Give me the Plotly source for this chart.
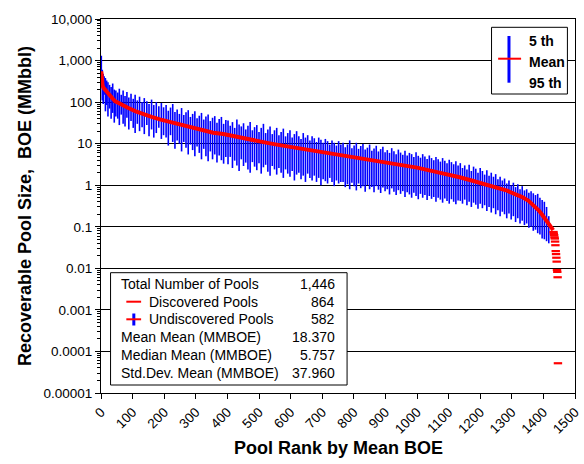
import plotly.graph_objects as go

# ---------------- data ----------------
# Mean BOE by pool rank (red curve)
mean_rank = [1, 2, 3, 5, 8, 12, 20, 30, 44, 60,
             85, 110, 137, 160, 189, 215, 241, 270, 293, 330,
             355, 387, 420, 450, 490, 530, 570, 626, 680, 723,
             761, 810, 865, 930, 1000, 1060, 1104, 1135, 1170, 1208,
             1240, 1260, 1285, 1312, 1333, 1353, 1374, 1385, 1395, 1405,
             1416, 1425, 1431]
mean_val = [550, 390, 300, 250, 220, 200, 170, 140, 106, 90,
            73, 60, 50, 44, 38, 34, 31, 27, 24, 20.5,
            18.4, 17.0, 15, 13.3, 11.7, 10.3, 9.1, 7.8, 6.6, 5.76,
            5.3, 4.7, 4.0, 3.3, 2.65, 2.1, 1.8, 1.55, 1.32, 1.1,
            0.95, 0.85, 0.74, 0.6, 0.52, 0.42, 0.31, 0.25, 0.2, 0.16,
            0.12, 0.095, 0.083]

# smallest discovered pools (separate red dashes)
tail_rank = [1432, 1433, 1434, 1435, 1436, 1437, 1438, 1439, 1440, 1441,
             1442, 1443, 1444, 1445, 1446]
tail_val = [0.075, 0.068, 0.063, 0.056, 0.052, 0.044, 0.036, 0.026, 0.022, 0.018,
            0.0145, 0.0091, 0.0082, 0.0061, 0.000052]

# undiscovered pools: 5th (high) and 95th (low) fractiles
bar_rank = [1, 4, 7, 10, 14, 18, 22, 27, 32, 37, 42, 47,
            53, 58, 64, 70, 76, 82, 88, 95, 102, 108, 115, 122, 130, 137, 145, 152, 160, 167, 175, 183, 191, 198,
            206, 213, 220, 227, 234, 241, 248, 255, 262, 269, 276, 283, 290, 297, 304, 311, 318, 325, 332, 339,
            346, 353, 360, 367, 374, 381, 388, 395,
            402, 409, 416, 423, 430, 437, 444, 451, 458, 465, 472, 479, 486, 493, 500, 507, 514, 521, 528, 535,
            542, 549, 556, 563, 570, 577, 584, 591, 598, 605, 612, 619, 626, 633, 640, 647, 654, 661, 668, 675,
            682, 689, 696, 703, 710, 717, 724, 731, 738, 745, 752, 759,
            766, 773, 780, 787, 794, 801, 808, 815, 822, 829, 836, 843, 850, 857, 864, 871, 878, 885, 892, 899,
            906, 913, 920, 927, 934, 941, 948, 955, 962, 969, 976, 983, 990, 997, 1004, 1011, 1018, 1025, 1032,
            1039, 1046, 1053, 1060, 1067, 1074, 1081, 1088, 1095, 1102, 1109, 1116, 1123, 1130,
            1137, 1144, 1151, 1158, 1165, 1172, 1179, 1186, 1193, 1200, 1207, 1214, 1221, 1228, 1235, 1242,
            1249, 1256, 1263, 1270, 1277, 1284, 1291, 1298, 1305, 1312, 1319, 1326, 1333, 1340, 1347, 1354,
            1361, 1368, 1375, 1382, 1389, 1396, 1403, 1410, 1417]
bar_p5 = [1300, 600, 480, 420, 380, 330, 300, 260, 230, 280, 200, 190,
          170, 210, 150, 190, 140, 175, 130, 160, 120, 150, 110, 135, 100, 125, 105, 90, 115, 85, 100, 80, 95, 75,
          85, 62, 74, 90, 58, 66, 52, 72, 49, 57, 64, 44, 52, 60, 41, 47, 55, 38, 45, 50,
          35, 42, 46, 32, 39, 44, 30, 37,
          36, 27, 33, 24, 38, 29, 26, 31, 22, 27, 33, 21, 25, 28, 19, 24, 30, 18, 22, 26,
          17, 21, 24, 16, 19, 23, 15, 18, 21, 14, 17, 20, 15, 13, 18, 14, 16, 12, 15, 13.5,
          11, 14, 12.5, 10.5, 13, 11.5, 9.5, 12, 10.5, 9, 11.5, 9.5,
          10.5, 8.2, 9.6, 12, 7.8, 9.0, 10.5, 7.5, 8.8, 9.8, 7.2, 8.0, 9.5, 6.8, 7.7, 8.9, 6.5, 7.4, 8.4, 6.2,
          7.0, 6.0, 7.8, 6.6, 5.6, 7.2, 6.1, 5.4, 6.8, 5.2, 6.0, 5.6, 4.8, 6.2, 5.1, 4.6, 5.6, 4.9, 4.3,
          5.2, 4.5, 4.0, 4.8, 4.2, 3.7, 4.5, 3.9, 3.4, 4.1, 3.6, 3.2, 3.8, 3.0,
          3.4, 2.6, 3.0, 2.4, 3.1, 2.2, 2.8, 2.5, 2.0, 2.6, 2.2, 1.8, 2.3, 1.7, 2.0, 1.6,
          1.85, 1.4, 1.6, 1.3, 1.45, 1.1, 1.3, 1.0, 1.15, 0.9, 1.05, 0.8, 0.95, 0.75, 0.8, 0.66,
          0.72, 0.64, 0.58, 0.62, 0.5, 0.44, 0.4, 0.3, 0.18]
bar_p95 = [300, 110, 90, 150, 60, 85, 45, 70, 40, 55, 32, 45,
           40, 28, 50, 30, 26, 42, 22, 35, 24, 18, 30, 20, 25, 17, 28, 15, 22, 14, 18, 24, 13, 16,
           14, 9, 16, 11, 7.5, 12, 10, 6.5, 11, 8, 5.5, 9.5, 7, 5, 8.5, 6, 4.2, 7.5, 5, 3.8,
           6.5, 4.2, 5.5, 3.5, 5.2, 4, 3.3, 4.8,
           3.2, 4.8, 2.6, 3.9, 3.0, 2.2, 4.2, 2.9, 3.5, 2.4, 2.0, 3.6, 2.8, 2.3, 3.4, 1.9, 2.7, 3.1, 2.1, 1.7,
           2.9, 2.4, 1.8, 2.6, 2.0, 1.5, 2.4, 1.9, 1.6, 2.2, 1.3, 1.8, 2.0, 1.4, 1.7, 1.2, 1.9, 1.5, 1.3, 1.7,
           1.2, 1.5, 1.0, 1.4, 1.25, 1.1, 1.5, 1.2, 0.95, 1.3, 1.1, 1.2,
           1.2, 0.9, 1.05, 0.8, 1.15, 0.95, 0.75, 1.1, 0.85, 0.95, 0.7, 1.0, 0.8, 0.9, 0.68, 0.95, 0.78, 0.65, 0.88, 0.72,
           0.8, 0.6, 0.84, 0.7, 0.58, 0.76, 0.62, 0.72, 0.52, 0.68, 0.6, 0.5, 0.66, 0.55, 0.46, 0.62, 0.5, 0.58, 0.44,
           0.55, 0.47, 0.52, 0.4, 0.5, 0.45, 0.38, 0.48, 0.42, 0.36, 0.46, 0.4, 0.35, 0.43,
           0.42, 0.36, 0.45, 0.33, 0.4, 0.3, 0.38, 0.34, 0.27, 0.36, 0.28, 0.33, 0.24, 0.3, 0.22, 0.28,
           0.2, 0.25, 0.18, 0.23, 0.2, 0.16, 0.21, 0.15, 0.18, 0.13, 0.16, 0.12, 0.14, 0.11, 0.12, 0.095,
           0.1, 0.08, 0.085, 0.07, 0.065, 0.052, 0.05, 0.045, 0.04]

y_tickvals = [10000, 1000, 100, 10, 1, 0.1, 0.01, 0.001, 0.0001, 0.00001]
y_ticktext = ["10,000", "1,000", "100", "10", "1", "0.1", "0.01", "0.001", "0.0001", "0.00001"]
x_tickvals = list(range(0, 1501, 100))

table_labels = ["Total Number of Pools", "Discovered Pools", "Undiscovered Pools",
                "Mean Mean (MMBOE)", "Median Mean (MMBOE)", "Std.Dev. Mean (MMBOE)"]
table_values = ["1,446", "864", "582", "18.370", "5.757", "37.960"]

# ---------------- figure ----------------
FONT = "Liberation Sans, Arial, sans-serif"
BLUE = "#0000FF"
RED = "#FF0000"

bx, by = [], []
for r, hi, lo in zip(bar_rank, bar_p5, bar_p95):
    bx += [r, r, None]
    by += [lo, hi, None]

fig = go.Figure()
fig.add_trace(go.Scatter(x=bx, y=by, mode="lines", line=dict(color=BLUE, width=1.6),
                         hoverinfo="skip", showlegend=False))
fig.add_trace(go.Scatter(x=mean_rank, y=mean_val, mode="lines", line=dict(color=RED, width=4),
                         showlegend=False))
fig.add_trace(go.Scatter(x=tail_rank, y=tail_val, mode="markers",
                         marker=dict(symbol="line-ew", size=6, line=dict(color=RED, width=2.2)),
                         showlegend=False))

# plot area geometry (pixels)
L, R, T, B = 101, 2, 19, 71
W, H = 584, 464
PW, PH = W - L - R, H - T - B


def px(xp):
    return (xp - L) / PW


def py(yp):
    return (H - B - yp) / PH


shapes = []
annotations = []

# --- inset statistics table ---
shapes.append(dict(type="rect", xref="paper", yref="paper",
                   x0=px(110.7), x1=px(350.7), y0=py(385), y1=py(272.7),
                   line=dict(color="black", width=1), fillcolor="white", layer="above"))
row_y = [284, 301.7, 319.3, 337.3, 355.3, 373.3]
for i, (lab, val) in enumerate(zip(table_labels, table_values)):
    xl = 147.3 if i in (1, 2) else 119.3
    annotations.append(dict(xref="paper", yref="paper", x=px(xl), y=py(row_y[i]), text=lab,
                            showarrow=False, xanchor="left", yanchor="middle",
                            font=dict(family=FONT, size=14, color="black")))
    annotations.append(dict(xref="paper", yref="paper", x=px(340), y=py(row_y[i]), text=val,
                            showarrow=False, xanchor="right", yanchor="middle",
                            font=dict(family=FONT, size=14, color="black")))
# glyphs in table
shapes.append(dict(type="line", xref="paper", yref="paper", x0=px(126.7), x1=px(141.7),
                   y0=py(301.7), y1=py(301.7), line=dict(color=RED, width=2), layer="above"))
shapes.append(dict(type="line", xref="paper", yref="paper", x0=px(134.3), x1=px(134.3),
                   y0=py(313.5), y1=py(325.5), line=dict(color=BLUE, width=3), layer="above"))
shapes.append(dict(type="line", xref="paper", yref="paper", x0=px(126.7), x1=px(141.7),
                   y0=py(319.3), y1=py(319.3), line=dict(color=RED, width=2), layer="above"))

# --- top-right key ---
shapes.append(dict(type="rect", xref="paper", yref="paper",
                   x0=px(497.3), x1=px(574.3), y0=py(94), y1=py(27.3),
                   line=dict(color="black", width=1), fillcolor="white", layer="above"))
shapes.append(dict(type="line", xref="paper", yref="paper", x0=px(515), x1=px(515),
                   y0=py(82.7), y1=py(36), line=dict(color=BLUE, width=3), layer="above"))
shapes.append(dict(type="line", xref="paper", yref="paper", x0=px(504), x1=px(527.3),
                   y0=py(58.7), y1=py(58.7), line=dict(color=RED, width=2), layer="above"))
for txt, yy in [("5 th", 40.7), ("Mean", 62), ("95 th", 82.7)]:
    annotations.append(dict(xref="paper", yref="paper", x=px(533), y=py(yy), text="<b>%s</b>" % txt,
                            showarrow=False, xanchor="left", yanchor="middle",
                            font=dict(family=FONT, size=14, color="black")))

# axis titles
annotations.append(dict(xref="paper", yref="paper", x=0.5, y=py(448), text="<b>Pool Rank by Mean BOE</b>",
                        showarrow=False, xanchor="center", yanchor="middle",
                        font=dict(family=FONT, size=18, color="black")))
annotations.append(dict(xref="paper", yref="paper", x=px(24), y=0.5,
                        text="<b>Recoverable Pool Size,  BOE (MMbbl)</b>", textangle=-90,
                        showarrow=False, xanchor="center", yanchor="middle",
                        font=dict(family=FONT, size=18, color="black")))

fig.update_layout(
    width=W, height=H, autosize=False,
    margin=dict(l=L, r=R, t=T, b=B, pad=0),
    paper_bgcolor="white", plot_bgcolor="white",
    font=dict(family=FONT, size=13.5, color="black"),
    shapes=shapes, annotations=annotations, showlegend=False,
)
fig.update_xaxes(range=[0, 1500], tickmode="array", tickvals=x_tickvals, tickangle=-45,
                 ticks="outside", ticklen=5, tickcolor="black", showgrid=False, zeroline=False,
                 showline=True, linecolor="black", linewidth=1, mirror=True,
                 ticklabeloverflow="allow",
                 tickfont=dict(family=FONT, size=13.5, color="black"))
fig.update_yaxes(type="log", range=[-5, 4], tickmode="array", tickvals=y_tickvals, ticktext=y_ticktext,
                 ticks="outside", ticklen=5, tickcolor="black", showgrid=True, gridcolor="black",
                 gridwidth=1, zeroline=False, showline=True, linecolor="black", linewidth=1, mirror=True,
                 tickfont=dict(family=FONT, size=13.5, color="black"),
                 minor=dict(dtick="D1", ticks="outside", ticklen=3, tickcolor="black", showgrid=False))

fig.write_html("out.html", config={"displayModeBar": False},
               post_script="document.body.style.margin='0';document.body.style.padding='0';")
